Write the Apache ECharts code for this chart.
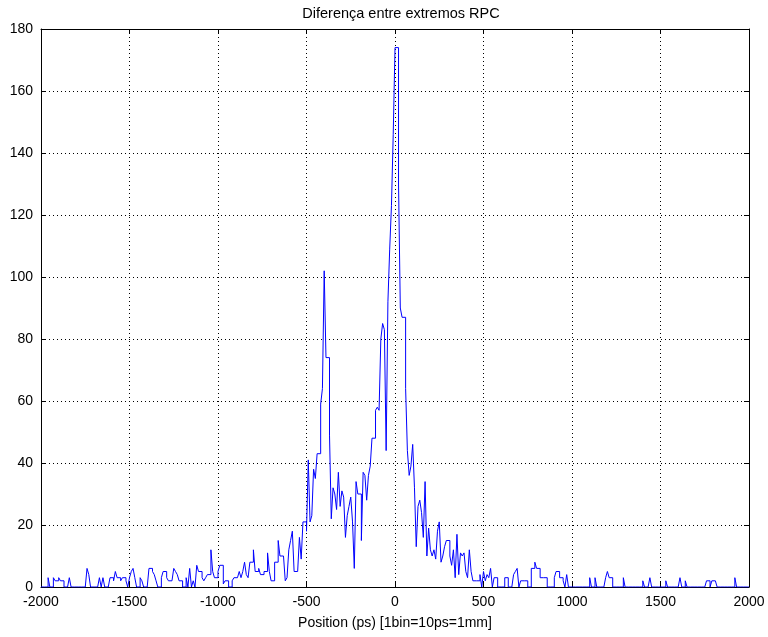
<!DOCTYPE html>
<html>
<head>
<meta charset="utf-8">
<script src="https://cdn.jsdelivr.net/npm/echarts@6/dist/echarts.min.js"></script>
<style>
html,body{margin:0;padding:0;background:#fff;}
#chart{width:768px;height:637px;}
</style>
</head>
<body>
<div id="chart"></div>
<script>
// Histogram counts per 10 ps bin (bin left edges from -2000 ps)
const countsA = [ // -2000 .. -1010
  0,0,0,0,3,0,0,3,2,2,
  3,2,2,0,0,0,3,0,0,0,
  0,0,0,0,0,0,6,4,0,0,
  0,0,0,3,0,3,0,0,0,3,
  3,2,5,3,3,2,3,3,2,0,
  3,5,6,3,0,0,3,2,0,0,
  0,6,6,5,4,2,0,0,3,5,
  5,3,2,2,2,6,5,4,2,2,
  0,0,3,0,6,0,2,0,7,5,
  5,3,2,3,4,4,12,5,3,3
];
const countsB = [ // -1000 .. -510
  5,7,7,1,2,2,0,0,2,3,
  3,3,5,3,5,8,4,3,8,8,
  12,5,5,6,4,4,5,5,11,5,
  2,2,8,8,15,10,10,10,2,3,
  12,15,18,5,5,5,16,9,21,21
];
const countsC = [ // -500 .. -10
  18,41,21,23,38,35,43,43,59,64,
  102,74,74,49,22,32,30,25,37,26,
  31,29,16,23,26,29,21,6,34,30,
  30,15,37,36,28,36,39,48,48,57,
  58,57,80,85,83,44,92,109,123,146
];
const countsD = [ // 0 .. 490
  174,174,130,90,87,87,64,44,36,39,
  46,32,13,26,28,24,16,34,10,19,
  12,10,12,9,18,21,8,10,13,15,
  15,10,7,12,3,17,4,11,10,11,
  5,3,12,5,2,2,2,2,4,0
];
const countsE = [ // 500 .. 990
  5,2,4,3,6,0,3,3,0,0,
  0,0,3,3,0,0,0,4,5,6,
  0,2,2,2,2,0,0,6,6,8,
  6,6,3,3,3,3,0,0,0,0,
  3,5,5,3,3,2,0,4,0,0
];
const countsF = [ // 1000 .. 1990
  0,0,0,0,0,0,0,0,0,0,
  3,0,0,3,0,0,0,0,0,3,
  5,3,3,0,0,0,0,0,0,3,
  0,0,0,0,0,0,0,0,0,0,
  2,0,0,0,3,0,0,0,0,0,
  0,0,0,2,0,0,0,0,0,0,
  0,3,0,0,2,0,0,0,0,0,
  0,0,0,0,0,0,2,2,0,2,
  2,2,0,0,0,0,0,0,0,0,
  0,0,3,0,0,0,0,0,0,0
];
const binStart = -2000;
const binWidth = 10;
const xTicks = [-2000, 2000, 500];
const yTicks = [0, 180, 20];
const titleText = 'Diferença entre extremos RPC';
const xLabel = 'Position (ps) [1bin=10ps=1mm]';

const counts = [].concat(countsA, countsB, countsC, countsD, countsE, countsF);
const data = counts.map((v, i) => [binStart + i * binWidth, v]);
data.push([binStart + counts.length * binWidth, counts[counts.length - 1]]);

const font = 'Liberation Sans, Arial, sans-serif';
const plain = v => String(v);
const gridDots = {show: true, lineStyle: {color: '#000', type: [1, 3], width: 1}};
const boxLine = {show: true, onZero: false, lineStyle: {color: '#000', width: 1}};
const inTick = {show: true, inside: true, length: 5, lineStyle: {color: '#000'}};
const chart = echarts.init(document.getElementById('chart'), null, {renderer: 'canvas'});
chart.setOption({
  animation: false,
  backgroundColor: '#fff',
  title: {
    text: titleText, left: 396, top: 1, textAlign: 'center',
    textStyle: {fontFamily: font, fontSize: 14.5, fontWeight: 'normal', color: '#000'}
  },
  grid: {left: 41, right: 19, top: 29, bottom: 50},
  xAxis: [{
    type: 'value', min: xTicks[0], max: xTicks[1], interval: xTicks[2],
    name: xLabel, nameLocation: 'middle', nameGap: 29,
    nameTextStyle: {fontFamily: font, fontSize: 14, color: '#000'},
    axisLine: boxLine, axisTick: inTick,
    axisLabel: {fontFamily: font, fontSize: 14, color: '#000', margin: 8, formatter: plain},
    splitLine: gridDots
  }, {
    type: 'value', position: 'top', min: xTicks[0], max: xTicks[1], interval: xTicks[2],
    axisLine: boxLine, axisTick: inTick,
    axisLabel: {show: false}, splitLine: {show: false}
  }],
  yAxis: [{
    type: 'value', min: yTicks[0], max: yTicks[1], interval: yTicks[2],
    axisLine: boxLine, axisTick: inTick,
    axisLabel: {fontFamily: font, fontSize: 14, color: '#000', margin: 8, formatter: plain},
    splitLine: gridDots
  }, {
    type: 'value', position: 'right', min: yTicks[0], max: yTicks[1], interval: yTicks[2],
    axisLine: boxLine, axisTick: inTick,
    axisLabel: {show: false}, splitLine: {show: false}
  }],
  series: [{
    type: 'line', step: 'end', data: data, showSymbol: false, symbol: 'none',
    xAxisIndex: 0, yAxisIndex: 0,
    lineStyle: {color: '#0000ff', width: 1}
  }]
});
</script>
</body>
</html>
